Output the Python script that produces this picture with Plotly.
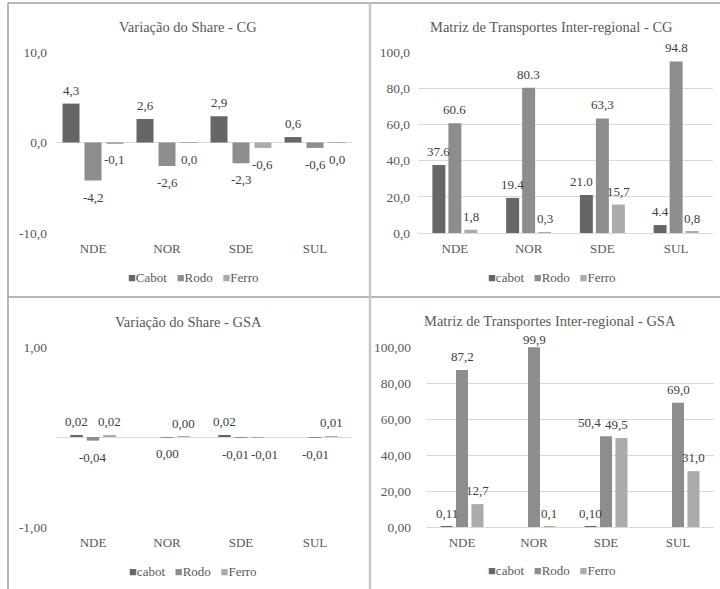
import plotly.graph_objects as go

regions = ["NDE", "NOR", "SDE", "SUL"]

# Variação do Share - CG
cg_var_cabot = [4.3, 2.6, 2.9, 0.6]
cg_var_rodo = [-4.2, -2.6, -2.3, -0.6]
cg_var_ferro = [-0.1, -0.02, -0.6, -0.02]
cg_var_cabot_lbl = ["4,3", "2,6", "2,9", "0,6"]
cg_var_rodo_lbl = ["-4,2", "-2,6", "-2,3", "-0,6"]
cg_var_ferro_lbl = ["-0,1", "0,0", "-0,6", "0,0"]

# Matriz de Transportes Inter-regional - CG
cg_mat_cabot = [37.6, 19.4, 21.0, 4.4]
cg_mat_rodo = [60.6, 80.3, 63.3, 94.8]
cg_mat_ferro = [1.8, 0.3, 15.7, 0.8]
cg_mat_cabot_lbl = ["37.6", "19.4", "21.0", "4.4"]
cg_mat_rodo_lbl = ["60.6", "80.3", "63,3", "94.8"]
cg_mat_ferro_lbl = ["1,8", "0,3", "15,7", "0,8"]

# Variação do Share - GSA
gsa_var_cabot = [0.02, None, 0.02, None]
gsa_var_rodo = [-0.04, -0.002, -0.01, -0.01]
gsa_var_ferro = [0.02, 0.002, -0.01, 0.01]
gsa_var_cabot_lbl = ["0,02", "", "0,02", ""]
gsa_var_rodo_lbl = ["-0,04", "0,00", "-0,01", "-0,01"]
gsa_var_ferro_lbl = ["0,02", "0,00", "-0,01", "0,01"]

# Matriz de Transportes Inter-regional - GSA
gsa_mat_cabot = [0.11, None, 0.10, None]
gsa_mat_rodo = [87.2, 99.9, 50.4, 69.0]
gsa_mat_ferro = [12.7, 0.1, 49.5, 31.0]
gsa_mat_cabot_lbl = ["0,11", "", "0,10", ""]
gsa_mat_rodo_lbl = ["87,2", "99,9", "50,4", "69,0"]
gsa_mat_ferro_lbl = ["12,7", "0,1", "49,5", "31,0"]

# y-axis ticks
var_cg_ticks = [-10, 0, 10]
var_cg_ticktext = ["-10,0", "0,0", "10,0"]
mat_cg_ticks = [0, 20, 40, 60, 80, 100]
mat_cg_ticktext = ["0,0", "20,0", "40,0", "60,0", "80,0", "100,0"]
var_gsa_ticks = [-1, 1]
var_gsa_ticktext = ["-1,00", "1,00"]
mat_gsa_ticks = [0, 20, 40, 60, 80, 100]
mat_gsa_ticktext = ["0,00", "20,00", "40,00", "60,00", "80,00", "100,00"]

W, H = 720, 589
FONT = "Liberation Serif, Times New Roman, serif"
COLORS = ["#666666", "#8d8d8d", "#ababab"]
TXT = "#595959"
LBL = "#404040"
GRID = "#d9d9d9"

# small offsets (px) for value labels that would otherwise collide
label_nudge = {(1, 0, 2): -5, (2, 1, 2): -6, (2, 2, 2): 7, (3, 1, 2): -17, (3, 2, 2): -5}
label_lift = {(3, 1, 1): -6}


def px_x(v):
    return v / W


def px_y(v):
    return 1 - v / H


fig = go.Figure()

panels = [
    # (axis suffix, series, labels, legend names, x-domain px, y-domain px, y range,
    #  tick values, tick text, bar spacing, bar width, y tick standoff)
    ("", [cg_var_cabot, cg_var_rodo, cg_var_ferro],
     [cg_var_cabot_lbl, cg_var_rodo_lbl, cg_var_ferro_lbl],
     ["Cabot", "Rodo", "Ferro"], (56, 352), (52, 233), [-10, 10],
     var_cg_ticks, var_cg_ticktext, 0.297, 0.23, 8),
    ("2", [cg_mat_cabot, cg_mat_rodo, cg_mat_ferro],
     [cg_mat_cabot_lbl, cg_mat_rodo_lbl, cg_mat_ferro_lbl],
     ["cabot", "Rodo", "Ferro"], (418, 713), (52, 233), [0, 100],
     mat_cg_ticks, mat_cg_ticktext, 0.217, 0.176, 7),
    ("3", [gsa_var_cabot, gsa_var_rodo, gsa_var_ferro],
     [gsa_var_cabot_lbl, gsa_var_rodo_lbl, gsa_var_ferro_lbl],
     ["cabot", "Rodo", "Ferro"], (56, 352), (347, 527), [-1, 1],
     var_gsa_ticks, var_gsa_ticktext, 0.223, 0.169, 8),
    ("4", [gsa_mat_cabot, gsa_mat_rodo, gsa_mat_ferro],
     [gsa_mat_cabot_lbl, gsa_mat_rodo_lbl, gsa_mat_ferro_lbl],
     ["cabot", "Rodo", "Ferro"], (426, 714), (347, 527), [0, 100],
     mat_gsa_ticks, mat_gsa_ticktext, 0.215, 0.167, 14),
]

titles = [
    ("Variação do Share - CG", 188, 27),
    ("Matriz de Transportes Inter-regional - CG", 551, 27),
    ("Variação do Share - GSA", 188, 322),
    ("Matriz de Transportes Inter-regional - GSA", 550, 321),
]

legend_pos = [(193, 277), (552, 277), (193, 571), (552, 570)]

layout = dict(
    width=W, height=H,
    margin=dict(l=0, r=0, t=0, b=0, autoexpand=False),
    paper_bgcolor="white", plot_bgcolor="white",
    barmode="overlay", showlegend=False,
    font=dict(family=FONT, color=TXT, size=13),
)

annotations = []
shapes = []
xs = list(range(len(regions)))

for idx, (sfx, series, labels, names, xd, yd, yr, tv, tt, step, bw, ystand) in enumerate(panels):
    xa = "x" + sfx
    ya = "y" + sfx
    for k, (vals, lbl, nm) in enumerate(zip(series, labels, names)):
        off = (k - 1) * step
        fig.add_trace(go.Bar(
            x=xs, y=vals, name=nm,
            marker=dict(color=COLORS[k], line=dict(width=0)),
            width=bw, offset=off - bw / 2,
            xaxis=xa, yaxis=ya, hoverinfo="skip",
        ))
        # value labels at the end of each bar
        for i, (v, s) in enumerate(zip(vals, lbl)):
            if v is None or s == "":
                continue
            up = v >= 0
            annotations.append(dict(
                text=s, x=xs[i] + off, y=v, xref=xa, yref=ya,
                xanchor="center", yanchor="bottom" if up else "top",
                yshift=(4 if up else -7) + label_lift.get((idx, k, i), 0),
                xshift=label_nudge.get((idx, k, i), 0),
                showarrow=False,
                font=dict(family=FONT, size=13, color=LBL),
            ))
    layout["xaxis" + sfx] = dict(
        domain=[px_x(xd[0]), px_x(xd[1])], anchor=ya, automargin=False,
        range=[-0.5, len(regions) - 0.5], tickvals=xs, ticktext=regions,
        showgrid=False, showline=False, zeroline=False,
        ticks="", ticklabelstandoff=6,
        tickfont=dict(family=FONT, size=13, color=TXT),
    )
    layout["yaxis" + sfx] = dict(
        domain=[px_y(yd[1]), px_y(yd[0])], anchor=xa, automargin=False,
        range=yr, tickvals=tv, ticktext=tt,
        showgrid=True, gridcolor=GRID, gridwidth=1,
        zeroline=True, zerolinecolor=GRID, zerolinewidth=1,
        showline=False, ticks="", ticklabelstandoff=ystand,
        tickfont=dict(family=FONT, size=13.5, color=TXT),
    )

    t, tx, ty = titles[idx]
    annotations.append(dict(
        text=t, x=px_x(tx), y=px_y(ty), xref="paper", yref="paper",
        xanchor="center", yanchor="middle", showarrow=False,
        font=dict(family=FONT, size=14.5, color=TXT),
    ))

    lx, ly = legend_pos[idx]
    parts = [
        "<span style='color:%s;font-size:13px'>■</span>%s" % (COLORS[k], names[k])
        for k in range(3)
    ]
    annotations.append(dict(
        text="   ".join(parts), x=px_x(lx), y=px_y(ly), xref="paper", yref="paper",
        xanchor="center", yanchor="middle", showarrow=False,
        font=dict(family=FONT, size=13, color=TXT),
    ))

# table-like frame around the four panels
frame = "#a0a0a0"
shapes += [
    dict(type="line", xref="paper", yref="paper", x0=px_x(8), x1=px_x(8), y0=px_y(3), y1=0,
         line=dict(color=frame, width=1.5)),
    dict(type="line", xref="paper", yref="paper", x0=px_x(8), x1=1, y0=px_y(3), y1=px_y(3),
         line=dict(color=frame, width=1.5)),
    dict(type="line", xref="paper", yref="paper", x0=px_x(8), x1=1, y0=px_y(297), y1=px_y(297),
         line=dict(color=frame, width=1.5)),
    dict(type="line", xref="paper", yref="paper", x0=px_x(370), x1=px_x(370), y0=px_y(3), y1=0,
         line=dict(color="#c8c8c8", width=2.5)),
]

layout["annotations"] = annotations
layout["shapes"] = shapes
fig.update_layout(**layout)

fig.write_html("out.html")
